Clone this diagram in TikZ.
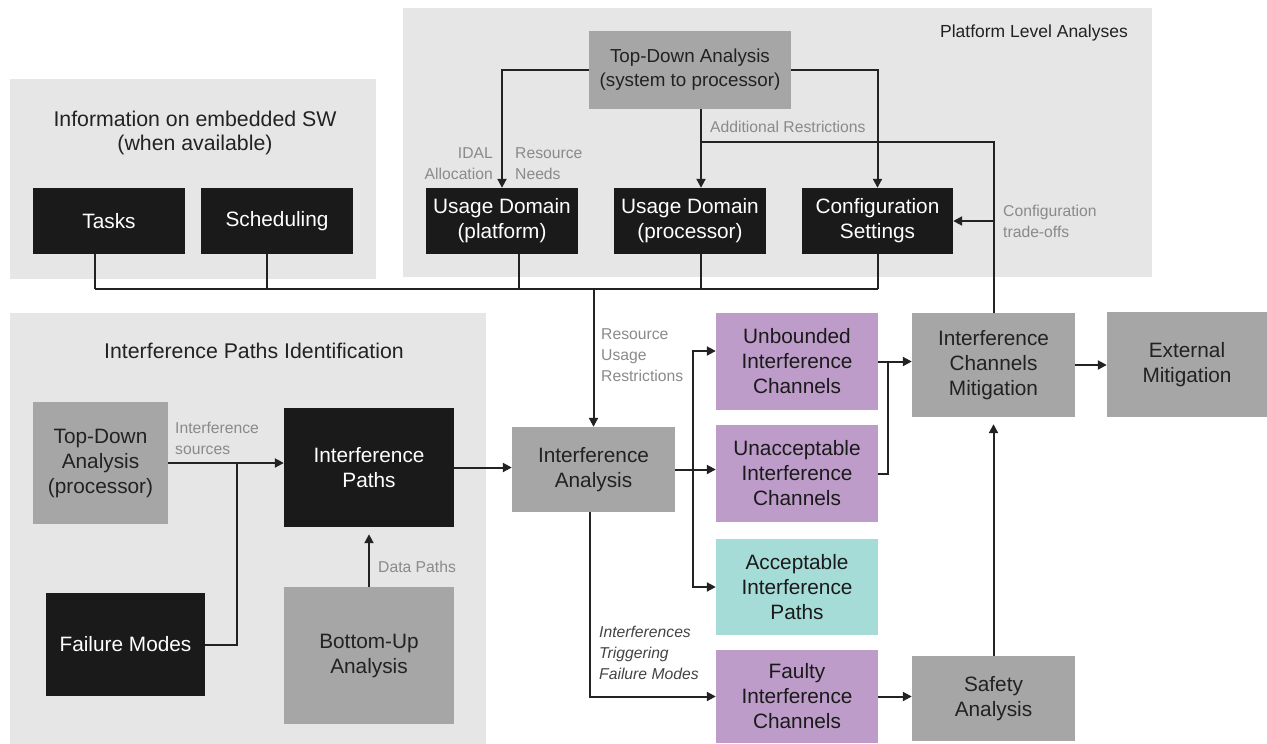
\documentclass[tikz,border=0pt]{standalone}
\usepackage{fontspec}
\setmainfont{Liberation Sans}
\usepackage{tikz}
\usetikzlibrary{arrows.meta}
\usetikzlibrary{calc}
\definecolor{panelgray}{HTML}{E6E6E6}
\definecolor{boxdark}{HTML}{1A1A1A}
\definecolor{boxgray}{HTML}{A6A6A6}
\definecolor{boxpurple}{HTML}{BE9CC9}
\definecolor{boxteal}{HTML}{A6DCD8}
\definecolor{labelgray}{HTML}{8A8A8A}
\definecolor{linecol}{HTML}{222222}
\tikzset{
 box/.style={inner sep=2pt, align=center, font=\fontsize{20.8}{25}\selectfont},
 darkbox/.style={box, fill=boxdark, text=white},
 graybox/.style={box, fill=boxgray, text=linecol},
 purplebox/.style={box, fill=boxpurple, text=boxdark},
 tealbox/.style={box, fill=boxteal, text=boxdark},
 title/.style={align=center, text=linecol, inner sep=0},
 lbl/.style={text=labelgray, inner sep=0, font=\fontsize{15.7}{21}\selectfont},
 conn/.style={draw=linecol, line width=2pt, >={Triangle[length=9pt,width=9pt]}},
}

\begin{document}
\begin{tikzpicture}[x=1pt,y=-1pt]
\useasboundingbox (0,0) rectangle (1267,744);
\fill[panelgray] (403,8) rectangle (1152,277);
\fill[panelgray] (10,79) rectangle (376,279);
\fill[panelgray] (10,313) rectangle (486,744);

\node[title, font=\fontsize{17.5}{21}\selectfont] (ttlplat) at (1034,33) {Platform Level Analyses};
\node[title, font=\fontsize{21.3}{24}\selectfont] (ttlinfo) at (195,133) {Information on embedded SW\\(when available)};
\node[title, font=\fontsize{21.3}{24}\selectfont] (ttlipid) at (254,351) {Interference Paths Identification};

\node[graybox, minimum width=202pt, minimum height=78pt, font=\fontsize{18.8}{24}\selectfont] (tdsys) at (690,70) {Top-Down Analysis\\(system to processor)};
\node[darkbox, minimum width=152pt, minimum height=66pt] (udplat) at (502,221) {Usage Domain\\(platform)};
\node[darkbox, minimum width=152pt, minimum height=66pt] (udproc) at (690,221) {Usage Domain\\(processor)};
\node[darkbox, minimum width=151pt, minimum height=66pt] (config) at (877.5,221) {Configuration\\Settings};
\node[darkbox, minimum width=152pt, minimum height=66pt] (tasks) at (109,221) {Tasks};
\node[darkbox, minimum width=152pt, minimum height=66pt] (sched) at (277,221) {Scheduling};

\node[graybox, minimum width=135pt, minimum height=122pt] (tdproc) at (100.5,463) {Top-Down\\Analysis\\(processor)};
\node[darkbox, minimum width=170pt, minimum height=119pt] (ipaths) at (369,467.5) {Interference\\Paths};
\node[darkbox, minimum width=159pt, minimum height=103pt] (fmodes) at (125.5,644.5) {Failure Modes};
\node[graybox, minimum width=170pt, minimum height=137pt] (buana) at (369,655.5) {Bottom-Up\\Analysis};

\node[graybox, minimum width=163pt, minimum height=85pt] (ianal) at (593.5,469.5) {Interference\\Analysis};
\node[purplebox, minimum width=162pt, minimum height=97pt] (unb) at (797,361.5) {Unbounded\\Interference\\Channels};
\node[purplebox, minimum width=162pt, minimum height=97pt] (unacc) at (797,473.5) {Unacceptable\\Interference\\Channels};
\node[tealbox, minimum width=162pt, minimum height=96pt] (acc) at (797,587) {Acceptable\\Interference\\Paths};
\node[purplebox, minimum width=162pt, minimum height=93pt] (faulty) at (797,696.5) {Faulty\\Interference\\Channels};

\node[graybox, minimum width=163pt, minimum height=104pt] (icm) at (993.5,365) {Interference\\Channels\\Mitigation};
\node[graybox, minimum width=160pt, minimum height=105pt] (extm) at (1187,364.5) {External\\Mitigation};
\node[graybox, minimum width=163pt, minimum height=85pt] (safety) at (993.5,698.5) {Safety\\Analysis};

\coordinate (ar) at (701,142);
\coordinate (bus) at (593.5,289);
\coordinate (jn) at (237,463);
\coordinate (br) at (693,469.5);

\draw[conn,->] (tdsys.west) -| (udplat.north);
\draw[conn,->] (tdsys.south -| ar) -- (ar |- udproc.north);
\draw[conn,->] (tdsys.east) -| (config.north);
\draw[conn] (icm.north) |- (ar);
\draw[conn,->] (icm.north |- config.east) -- (config.east);

\foreach \n/\dx in {tasks/-14, sched/-10, udplat/17, udproc/11, config/0.5}
 \draw[conn] ([xshift=\dx pt]\n.south) -- ([xshift=\dx pt]\n.south |- bus);
\draw[conn] ([xshift=-14pt]tasks.south |- bus) -- ([xshift=0.5pt]config.south |- bus);
\draw[conn,->] (bus) -- (ianal.north);

\draw[conn,->] (tdproc.east) -- (tdproc.east -| ipaths.west);
\draw[conn] (fmodes.east) -| (jn);
\draw[conn,->, shorten >=7pt] (buana.north) -- (ipaths.south);
\draw[conn,->] (ipaths.east) -- (ipaths.east -| ianal.west);

\draw[conn,->] (ianal.east) -- (ianal.east -| unacc.west);
\draw[conn,<->] ([yshift=10.5pt]unb.west) -| (br) |- (acc.west);
\draw[conn,->] ([xshift=-3.5pt]ianal.south) |- (faulty.west);

\draw[conn,->] (unb.east) -- (unb.east -| icm.west);
\draw[conn] (unacc.east) -| ([xshift=10pt]unb.east);
\draw[conn,->] (icm.east) -- (icm.east -| extm.west);
\draw[conn,->] (faulty.east) -- (faulty.east -| safety.west);
\draw[conn,->, shorten >=7pt] (safety.north) -- (icm.south);

\node[lbl, anchor=east, align=right] (lidal) at (493,164) {IDAL\\Allocation};
\node[lbl, anchor=west, align=left] (lneeds) at (515,164) {Resource\\Needs};
\node[lbl, anchor=west] (laddr) at (710,127) {Additional Restrictions};
\node[lbl, anchor=west, align=left] (ltrade) at (1003,221) {Configuration\\trade-offs};
\node[lbl, anchor=west, align=left] (lrur) at (601,355) {Resource\\Usage\\Restrictions};
\node[lbl, anchor=west, align=left] (lsrc) at (175,438) {Interference\\sources};
\node[lbl, anchor=west] (ldata) at (378,567) {Data Paths};
\node[lbl, anchor=west, align=left, text=linecol!85, font=\fontsize{15.7}{21}\selectfont\itshape] (ltrig) at (599,653) {Interferences\\Triggering\\Failure Modes};
\end{tikzpicture}
\end{document}
